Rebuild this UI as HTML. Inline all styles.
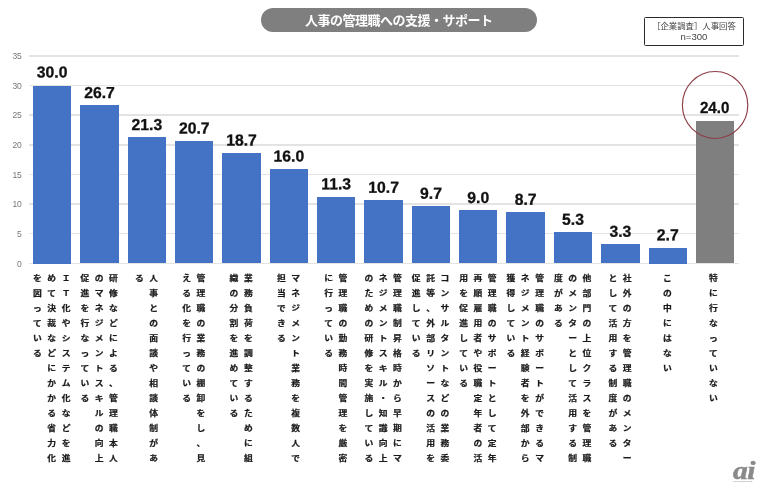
<!DOCTYPE html>
<html lang="ja"><head><meta charset="utf-8"><title>人事の管理職への支援・サポート</title>
<style>
html,body{margin:0;padding:0;background:#fff;}
body{width:762px;height:490px;position:relative;overflow:hidden;font-family:"Liberation Sans","Noto Sans CJK JP",sans-serif;}
.abs{position:absolute;}
.grid{position:absolute;left:28.5px;width:710.5px;height:1.5px;background:#e3e3e3;}
.yl{position:absolute;left:0;width:21.5px;text-align:right;font-size:8.5px;color:#777;line-height:10px;letter-spacing:-0.2px;}
.bar{position:absolute;background:#4472c4;}
.val{position:absolute;width:60px;text-align:center;font-weight:bold;font-size:15.8px;line-height:16px;color:#111;transform:scaleX(0.945);-webkit-text-stroke:0.4px #111;transform-origin:center;}
.col{position:absolute;width:8.8px;font-size:8.8px;line-height:17.102px;transform:scaleY(0.88);transform-origin:50% 0;font-weight:bold;color:#1a1a1a;-webkit-text-stroke:0.25px #1a1a1a;text-align:center;word-break:break-all;line-break:anywhere;white-space:normal;}
.title{position:absolute;left:260.5px;top:8px;width:276.5px;height:24px;border-radius:13px;background:#7f7f7f;color:#fff;font-weight:bold;font-size:13px;line-height:25.6px;text-align:center;letter-spacing:-0.5px;}
.legend{position:absolute;left:644px;top:16.5px;width:98px;height:27.3px;border:1.3px solid #2a2a2a;border-radius:1.5px;font-size:8.4px;line-height:10.4px;color:#444;text-align:center;box-sizing:content-box;}
</style></head><body>
<div class="title">人事の管理職への支援・サポート</div>
<div class="legend"><div style="margin-top:3.6px">［企業調査］人事回答</div><div style="font-size:9.6px">n=300</div></div>
<div class="grid" style="top:262.55px"></div><div class="yl" style="top:258.50px">0</div>
<div class="grid" style="top:232.93px"></div><div class="yl" style="top:228.88px">5</div>
<div class="grid" style="top:203.30px"></div><div class="yl" style="top:199.25px">10</div>
<div class="grid" style="top:173.68px"></div><div class="yl" style="top:169.62px">15</div>
<div class="grid" style="top:144.05px"></div><div class="yl" style="top:140.00px">20</div>
<div class="grid" style="top:114.42px"></div><div class="yl" style="top:110.38px">25</div>
<div class="grid" style="top:84.80px"></div><div class="yl" style="top:80.75px">30</div>
<div class="grid" style="top:55.17px"></div><div class="yl" style="top:51.12px">35</div>
<div class="bar" style="left:32.95px;top:85.75px;width:38.40px;height:177.75px;background:#4472c4"></div><div class="col" style="left:61.65px;top:271.08px">ＩＴ化やシステム化などを進</div><div class="col" style="left:47.35px;top:271.08px">めて決裁などにかかる省力化</div><div class="col" style="left:33.05px;top:271.08px">を図っている</div>
<div class="bar" style="left:80.30px;top:105.30px;width:38.40px;height:158.20px;background:#4472c4"></div><div class="col" style="left:109.00px;top:271.08px">研修などによる、管理職本人</div><div class="col" style="left:94.70px;top:271.08px">のマネジメントスキルの向上</div><div class="col" style="left:80.40px;top:271.08px">促進を行なっている</div>
<div class="bar" style="left:127.65px;top:137.30px;width:38.40px;height:126.20px;background:#4472c4"></div><div class="col" style="left:149.20px;top:271.08px">人事との面談や相談体制があ</div><div class="col" style="left:134.90px;top:271.08px">る</div>
<div class="bar" style="left:175.00px;top:140.85px;width:38.40px;height:122.65px;background:#4472c4"></div><div class="col" style="left:196.55px;top:271.08px">管理職の業務の棚卸をし、見</div><div class="col" style="left:182.25px;top:271.08px">える化を行っている</div>
<div class="bar" style="left:222.35px;top:152.70px;width:38.40px;height:110.80px;background:#4472c4"></div><div class="col" style="left:243.90px;top:271.08px">業務負荷を調整するために組</div><div class="col" style="left:229.60px;top:271.08px">織の分割を進めている</div>
<div class="bar" style="left:269.70px;top:168.70px;width:38.40px;height:94.80px;background:#4472c4"></div><div class="col" style="left:291.25px;top:271.08px">マネジメント業務を複数人で</div><div class="col" style="left:276.95px;top:271.08px">担当できる</div>
<div class="bar" style="left:317.05px;top:196.55px;width:38.40px;height:66.95px;background:#4472c4"></div><div class="col" style="left:338.60px;top:271.08px">管理職の勤務時間管理を厳密</div><div class="col" style="left:324.30px;top:271.08px">に行っている</div>
<div class="bar" style="left:364.40px;top:200.10px;width:38.40px;height:63.40px;background:#4472c4"></div><div class="col" style="left:393.10px;top:271.08px">管理職制昇格時から早期にマ</div><div class="col" style="left:378.80px;top:271.08px">ネジメントスキル・知識向上</div><div class="col" style="left:364.50px;top:271.08px">のための研修を実施している</div>
<div class="bar" style="left:411.75px;top:206.03px;width:38.40px;height:57.47px;background:#4472c4"></div><div class="col" style="left:440.45px;top:271.08px">コンサルタントなどの業務委</div><div class="col" style="left:426.15px;top:271.08px">託等、外部リソースの活用を</div><div class="col" style="left:411.85px;top:271.08px">促進している</div>
<div class="bar" style="left:459.10px;top:210.18px;width:38.40px;height:53.32px;background:#4472c4"></div><div class="col" style="left:487.80px;top:271.08px">管理職のサポートとして定年</div><div class="col" style="left:473.50px;top:271.08px">再順雇用者や役職定年者の活</div><div class="col" style="left:459.20px;top:271.08px">用を促進している</div>
<div class="bar" style="left:506.45px;top:211.95px;width:38.40px;height:51.55px;background:#4472c4"></div><div class="col" style="left:535.15px;top:271.08px">管理職のサポートができるマ</div><div class="col" style="left:520.85px;top:271.08px">ネジメント経験者を外部から</div><div class="col" style="left:506.55px;top:271.08px">獲得している</div>
<div class="bar" style="left:553.80px;top:232.10px;width:38.40px;height:31.40px;background:#4472c4"></div><div class="col" style="left:582.50px;top:271.08px">他部門の上位クラスを管理職</div><div class="col" style="left:568.20px;top:271.08px">のメンターとして活用する制</div><div class="col" style="left:553.90px;top:271.08px">度がある</div>
<div class="bar" style="left:601.15px;top:243.95px;width:38.40px;height:19.55px;background:#4472c4"></div><div class="col" style="left:622.70px;top:271.08px">社外の方を管理職のメンター</div><div class="col" style="left:608.40px;top:271.08px">として活用する制度がある</div>
<div class="bar" style="left:648.50px;top:247.50px;width:38.40px;height:16.00px;background:#4472c4"></div><div class="col" style="left:662.90px;top:271.08px">この中にはない</div>
<div class="bar" style="left:695.85px;top:121.30px;width:38.40px;height:142.20px;background:#7f7f7f"></div><div class="col" style="left:709.05px;top:271.08px">特に行なっていない</div>
<svg class="abs" style="left:0;top:0" width="762" height="490" viewBox="0 0 762 490"><ellipse cx="715.1" cy="105" rx="32.7" ry="33.5" fill="none" stroke="#8c3d46" stroke-width="1.15"/><g font-family="Liberation Sans, sans-serif"><text transform="translate(52.15,77.50) scale(0.99,1) rotate(0.03)" text-anchor="middle" font-size="15.9" font-weight="bold" fill="#111" stroke="#111" stroke-width="0.3">30.0</text><text transform="translate(99.50,98.05) scale(0.99,1) rotate(0.03)" text-anchor="middle" font-size="15.9" font-weight="bold" fill="#111" stroke="#111" stroke-width="0.3">26.7</text><text transform="translate(146.85,130.05) scale(0.99,1) rotate(0.03)" text-anchor="middle" font-size="15.9" font-weight="bold" fill="#111" stroke="#111" stroke-width="0.3">21.3</text><text transform="translate(194.20,133.60) scale(0.99,1) rotate(0.03)" text-anchor="middle" font-size="15.9" font-weight="bold" fill="#111" stroke="#111" stroke-width="0.3">20.7</text><text transform="translate(241.55,145.45) scale(0.99,1) rotate(0.03)" text-anchor="middle" font-size="15.9" font-weight="bold" fill="#111" stroke="#111" stroke-width="0.3">18.7</text><text transform="translate(288.90,161.45) scale(0.99,1) rotate(0.03)" text-anchor="middle" font-size="15.9" font-weight="bold" fill="#111" stroke="#111" stroke-width="0.3">16.0</text><text transform="translate(336.25,189.30) scale(0.99,1) rotate(0.03)" text-anchor="middle" font-size="15.9" font-weight="bold" fill="#111" stroke="#111" stroke-width="0.3">11.3</text><text transform="translate(383.60,192.85) scale(0.99,1) rotate(0.03)" text-anchor="middle" font-size="15.9" font-weight="bold" fill="#111" stroke="#111" stroke-width="0.3">10.7</text><text transform="translate(430.95,198.78) scale(0.99,1) rotate(0.03)" text-anchor="middle" font-size="15.9" font-weight="bold" fill="#111" stroke="#111" stroke-width="0.3">9.7</text><text transform="translate(478.30,202.93) scale(0.99,1) rotate(0.03)" text-anchor="middle" font-size="15.9" font-weight="bold" fill="#111" stroke="#111" stroke-width="0.3">9.0</text><text transform="translate(525.65,204.70) scale(0.99,1) rotate(0.03)" text-anchor="middle" font-size="15.9" font-weight="bold" fill="#111" stroke="#111" stroke-width="0.3">8.7</text><text transform="translate(573.00,224.85) scale(0.99,1) rotate(0.03)" text-anchor="middle" font-size="15.9" font-weight="bold" fill="#111" stroke="#111" stroke-width="0.3">5.3</text><text transform="translate(620.35,236.70) scale(0.99,1) rotate(0.03)" text-anchor="middle" font-size="15.9" font-weight="bold" fill="#111" stroke="#111" stroke-width="0.3">3.3</text><text transform="translate(667.70,240.25) scale(0.99,1) rotate(0.03)" text-anchor="middle" font-size="15.9" font-weight="bold" fill="#111" stroke="#111" stroke-width="0.3">2.7</text><text transform="translate(714.65,113.10) scale(0.94,1) rotate(0.03)" text-anchor="middle" font-size="16.1" font-weight="bold" fill="#111" stroke="#111" stroke-width="0.3">24.0</text></g><text transform="translate(733,478.5) scale(1.16,1)" font-family="Liberation Serif, serif" font-style="italic" font-weight="bold" font-size="25.5" fill="#8a8a8a" stroke="#8a8a8a" stroke-width="0.5" letter-spacing="-0.5">ai</text><text x="733" y="482.2" font-family="Liberation Sans, sans-serif" font-weight="bold" font-size="2.1" fill="#999" textLength="19.5">ASAHI INTERACTIVE</text></svg>
</body></html>
